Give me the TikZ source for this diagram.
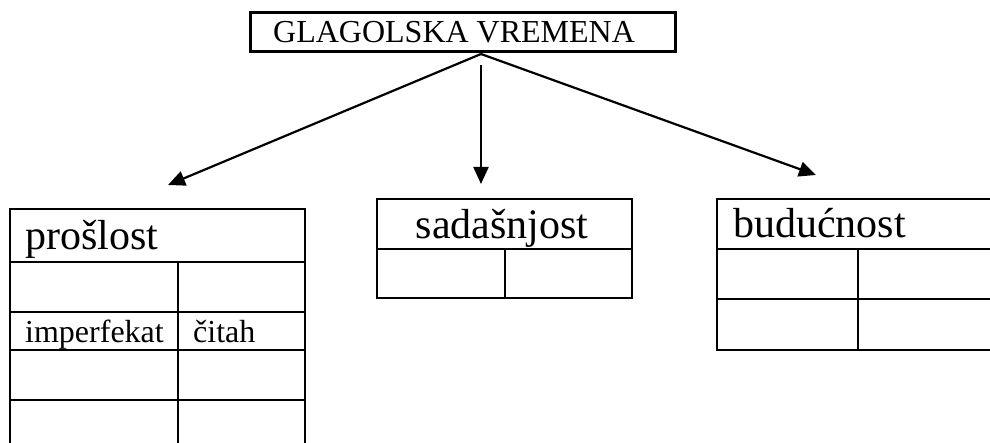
\documentclass[tikz,border=0pt]{standalone}
\usepackage{fontspec}
\setmainfont{Liberation Serif}
\usetikzlibrary{arrows.meta}
\tikzset{
  frame/.style={draw, line width=3pt, inner sep=0pt},
  grid/.style={line width=2.6pt},
  branch/.style={line width=2.2pt, -{Triangle[length=17pt,width=15pt]}},
  big/.style={font=\fontsize{42}{46}\selectfont, inner sep=0pt},
  small/.style={font=\fontsize{32}{36}\selectfont, inner sep=0pt}
}
\begin{document}
\begin{tikzpicture}[x=1pt,y=-1pt]
\useasboundingbox (0,0) rectangle (990,443);
\clip (0,0) rectangle (990,443);

% title box
\node[frame, minimum width=425pt, minimum height=39pt] (vbox) at (462.5,32.5) {};
\node[small, anchor=base west] (vtitle) at (273,43) {GLAGOLSKA VREMENA};

% branch points
\coordinate (apex) at (481,54);
\coordinate (stem) at (481,65);
\coordinate (tipL) at (168,185);
\coordinate (tipM) at (481,184);
\coordinate (tipR) at (816,175);
\draw[branch] (apex) -- (tipL);
\draw[branch] (stem) -- (tipM);
\draw[branch] (apex) -- (tipR);

% past table
\draw[grid] (10,460) -- (10,209) -- (305,209) -- (305,460);
\foreach \y in {262,312,350,400} \draw[grid] (10,\y) -- (305,\y);
\draw[grid] (178,262) -- (178,460);
\node[big, anchor=base west] (past) at (25,250) {prošlost};
\node[small, anchor=base west] (impf) at (25,342) {imperfekat};
\node[small, anchor=base west] (citah) at (193,342) {čitah};

% present table
\draw[grid] (377,199) rectangle (632,298);
\draw[grid] (377,249) -- (632,249);
\draw[grid] (505,249) -- (505,298);
\node[big, anchor=base] (pres) at (502,239) {sadašnjost};

% future table
\draw[grid] (1010,199) -- (717,199) -- (717,350) -- (1010,350);
\foreach \y in {249,299} \draw[grid] (717,\y) -- (1010,\y);
\draw[grid] (858,249) -- (858,350);
\node[big, anchor=base west] (fut) at (733,238) {budućnost};
\end{tikzpicture}
\end{document}
